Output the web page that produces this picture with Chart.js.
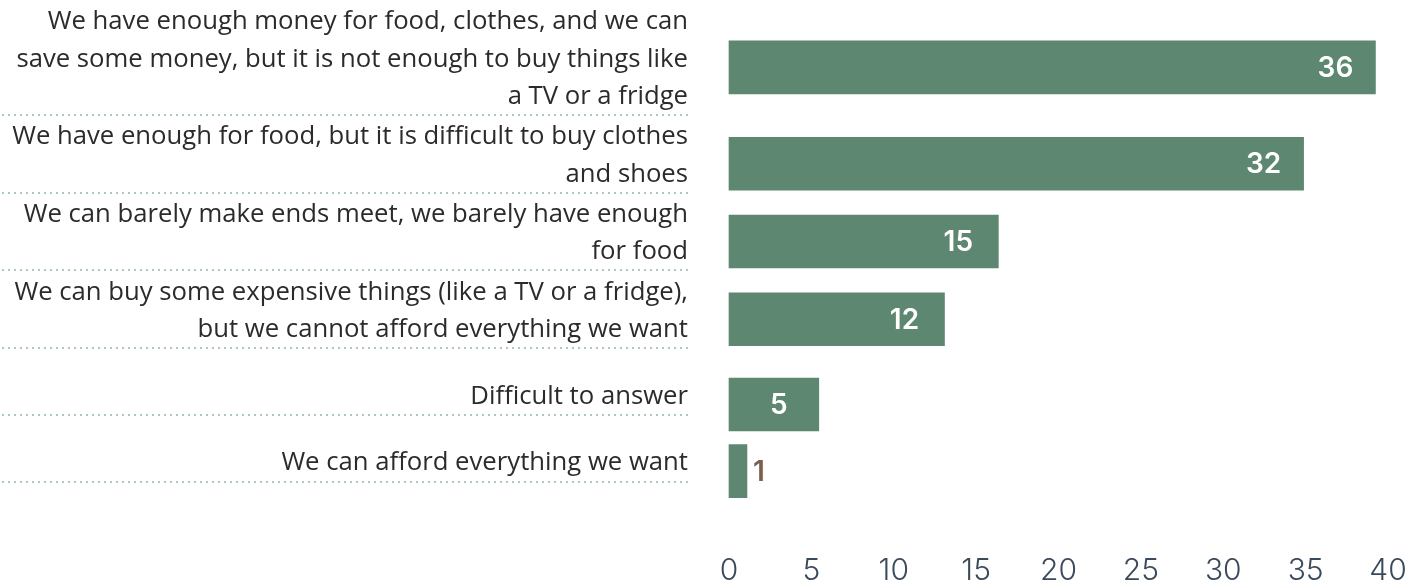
<!DOCTYPE html>
<html>
<head>
<meta charset="utf-8">
<script src="https://cdn.jsdelivr.net/npm/chart.js@4.4.0/dist/chart.umd.min.js"></script>
<style>
html, body { margin: 0; padding: 0; background: #fff; overflow: hidden; }
.chart-box { width: 1410px; height: 582px; }
</style>
</head>
<body>
<div class="chart-box"><canvas id="income-bar"></canvas></div>
<script>
var categories = [
	['We have enough money for food, clothes, and we can', 'save some money, but it is not enough to buy things like', 'a TV or a fridge'],
	['We have enough for food, but it is difficult to buy clothes', 'and shoes'],
	['We can barely make ends meet, we barely have enough', 'for food'],
	['We can buy some expensive things (like a TV or a fridge),', 'but we cannot afford everything we want'],
	['Difficult to answer'],
	['We can afford everything we want']
];
var values = [36, 32, 15, 12, 5, 1];
var axisTicks = [0, 5, 10, 15, 20, 25, 30, 35, 40];

// rows grow with the number of label lines (y units = text lines)
var rowBottom = [];
var labelPos = [];
var acc = 0;
for (var i = 0; i < categories.length; i++) {
	var lines = categories[i].length;
	acc += Math.max(lines, 1.7) + 0.1;
	rowBottom.push(acc);
	labelPos.push(acc - lines / 2);
}
var rowTotal = acc;

var barColor = '#5d8771';

// dotted rule under every label
var dottedRules = {
	id: 'dottedRules',
	beforeDatasetsDraw: function(chart) {
		var y = chart.scales.y, ctx = chart.ctx;
		ctx.save();
		ctx.strokeStyle = '#abc8c2';
		ctx.lineWidth = 2;
		ctx.setLineDash([2, 4]);
		for (var i = 0; i < rowBottom.length; i++) {
			var py = Math.round(y.getPixelForValue(rowBottom[i]));
			ctx.beginPath();
			ctx.moveTo(2, py);
			ctx.lineTo(y.right - 38, py);
			ctx.stroke();
		}
		ctx.restore();
	}
};

// numbers on the bars
var barValues = {
	id: 'barValues',
	afterDatasetsDraw: function(chart) {
		var ctx = chart.ctx;
		var meta = chart.getDatasetMeta(0);
		ctx.save();
		ctx.font = '600 28px Inter';
		ctx.textBaseline = 'middle';
		ctx.textAlign = 'center';
		meta.data.forEach(function(bar, i) {
			if (bar.x - bar.base > 60) {
				ctx.fillStyle = '#ffffff';
				ctx.fillText(values[i], bar.x - 40, bar.y + 1);
			} else {
				ctx.fillStyle = '#7b5e4c';
				ctx.fillText(values[i], bar.x + 12, bar.y + 1);
			}
		});
		ctx.restore();
	}
};

var config_bar = {
	type: 'bar',
	data: {
		datasets: [{
			data: values.map(function(v, i) {
				return { x: v, y: labelPos[i] + 0.22 };
			}),
			backgroundColor: barColor,
			borderWidth: 0,
			barThickness: 53,
			clip: false,
			xAxisID: 'x',
			yAxisID: 'y'
		}]
	},
	options: {
		indexAxis: 'y',
		responsive: true,
		maintainAspectRatio: false,
		animation: false,
		layout: { padding: { top: 0, right: 22, bottom: 0, left: 0 } },
		plugins: {
			legend: { display: false },
			tooltip: { enabled: false }
		},
		scales: {
			y: {
				type: 'linear',
				position: 'left',
				reverse: true,
				offset: false,
				min: 0,
				max: rowTotal,
				bounds: 'data',
				grid: { display: false, drawTicks: false },
				border: { display: false },
				afterBuildTicks: function(scale) {
					scale.ticks = labelPos.map(function(v) { return { value: v }; });
				},
				afterFit: function(scale) {
					scale.width = 729;
					scale.paddingTop = 0;
					scale.paddingBottom = 0;
				},
				ticks: {
					autoSkip: false,
					padding: 41,
					color: '#2b2b2b',
					font: { family: 'Open Sans', size: 25.7, lineHeight: 37.5 / 25.7 },
					callback: function(value, index) {
						return categories[index];
					}
				}
			},
			// bar lengths
			x: {
				type: 'linear',
				display: false,
				min: 0,
				max: 36.7
			},
			// printed scale along the bottom
			x2: {
				type: 'linear',
				position: 'bottom',
				min: axisTicks[0],
				max: axisTicks[axisTicks.length - 1],
				grid: { display: false, drawTicks: false },
				border: { display: false },
				afterFit: function(scale) {
					scale.height = 582 - 481.5;
					scale.paddingLeft = 0;
					scale.paddingRight = 0;
				},
				ticks: {
					stepSize: axisTicks[1] - axisTicks[0],
					padding: 71,
					maxRotation: 0,
					color: '#3b4a5a',
					font: { family: 'Inter', size: 30, weight: 300 }
				}
			}
		}
	},
	plugins: [dottedRules, barValues]
};

window.onload = function() {
	var ctx = document.getElementById('income-bar').getContext('2d');
	window.incomeChart = new Chart(ctx, config_bar);
};
</script>
</body>
</html>
